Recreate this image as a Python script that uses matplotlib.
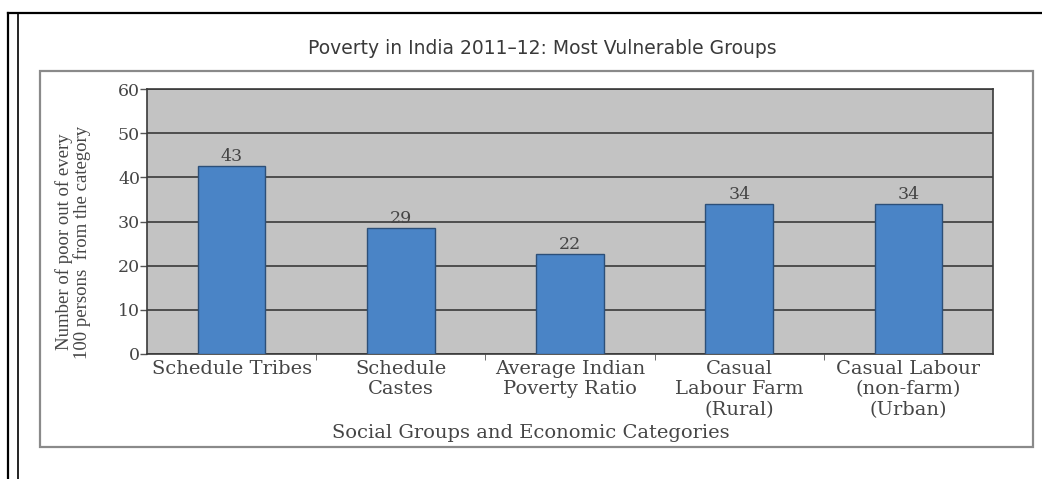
import matplotlib
matplotlib.use("Agg")
import matplotlib.pyplot as plt
from matplotlib.patches import Rectangle
from matplotlib.lines import Line2D

categorias = ["Schedule Tribes", "Schedule\nCastes", "Average Indian\nPoverty Ratio",
              "Casual\nLabour Farm\n(Rural)", "Casual Labour\n(non-farm)\n(Urban)"]
valores = [42.5, 28.6, 22.6, 34.0, 34.0]
etiquetas = ["43", "29", "22", "34", "34"]
yticks = [0, 10, 20, 30, 40, 50, 60]

W, H = 1042, 479
SERIF = "DejaVu Serif"
GRIS = "#454545"
fig = plt.figure(figsize=(W / 100, H / 100), dpi=100)
fig.patch.set_facecolor("white")

# marco exterior negro y caja gris del grafico
fig.add_artist(Line2D([8 / W, 8 / W], [0, 1 - 13 / H], color="black", lw=1.6))
fig.add_artist(Line2D([18 / W, 18 / W], [0, 1 - 13 / H], color="black", lw=1.2))
fig.add_artist(Line2D([8 / W, 1], [1 - 13 / H, 1 - 13 / H], color="black", lw=1.6))
fig.add_artist(Rectangle((40 / W, 1 - 447 / H), (1033 - 40) / W, (447 - 71) / H,
                         fill=False, edgecolor="#8a8a8a", lw=1.6))

ax = fig.add_axes([147 / W, 1 - 354 / H, (993 - 147) / W, (354 - 89) / H])
ax.set_facecolor("#c3c3c3")
x = list(range(len(categorias)))
ax.bar(x, valores, width=0.4, color="#4a84c6", edgecolor="#2c4f78", lw=1.0, zorder=3)
for xi, v, t in zip(x, valores, etiquetas):
    ax.text(xi, v + 0.2, t, ha="center", va="bottom", fontsize=12.5,
            family=SERIF, color=GRIS, zorder=4)

ax.set_xlim(-0.5, len(categorias) - 0.5)
ax.set_ylim(0, 60)
ax.set_yticks(yticks)
ax.set_yticklabels([str(t) for t in yticks], family=SERIF, fontsize=12.5, color=GRIS)
ax.yaxis.grid(True, color="#3a3a3a", lw=1.2, zorder=1)
ax.tick_params(axis="y", length=5, width=1, color="#555555", pad=0)
ax.set_xticks(x)
ax.set_xticklabels(categorias, family=SERIF, fontsize=14, color=GRIS,
                   linespacing=1.18)
ax.set_xticks([i + 0.5 for i in x[:-1]], minor=True)
ax.tick_params(axis="x", which="major", length=0, pad=4)
ax.tick_params(axis="x", which="minor", length=4, color="#555555")
for s in ax.spines.values():
    s.set_color("#3a3a3a")
    s.set_linewidth(1.2)

fig.text(73 / W, 1 - 242 / H, "Number of poor out of every\n100 persons  from the category",
         rotation=90, ha="center", va="center", family="Liberation Serif",
         fontsize=13.5, color=GRIS, linespacing=0.95)
fig.text(531 / W, 1 - 433 / H, "Social Groups and Economic Categories",
         ha="center", va="center", family=SERIF, fontsize=14, color=GRIS)
fig.text(542 / W, 1 - 48 / H, "Poverty in India 2011\u201312: Most Vulnerable Groups",
         ha="center", va="center", family="DejaVu Sans", fontsize=13.5, color="#3a3a3a")

fig.savefig("out.png", dpi=100)
